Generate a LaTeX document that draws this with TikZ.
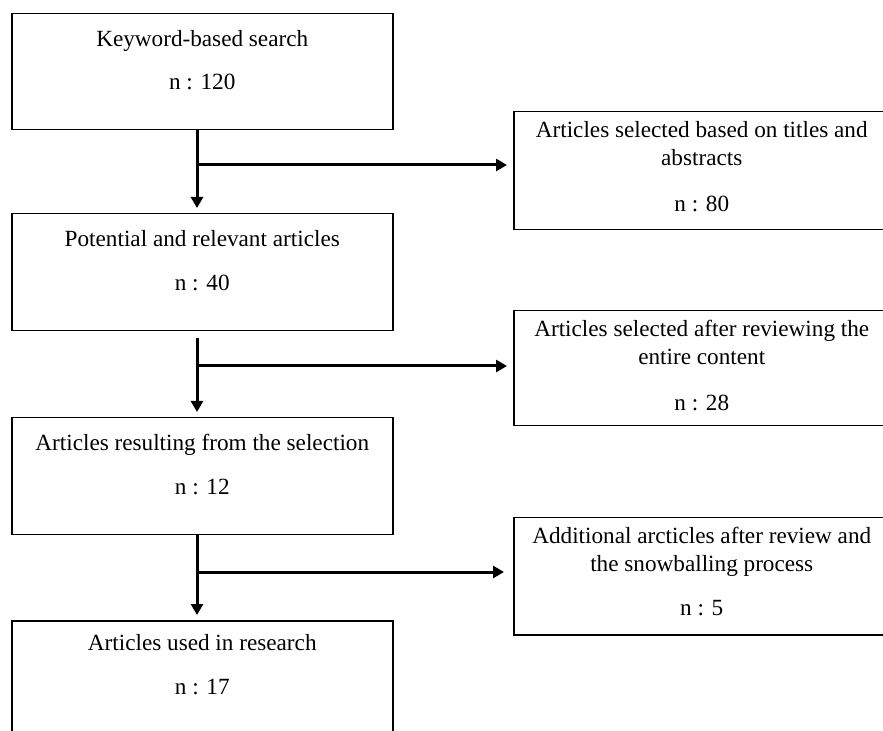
\documentclass[tikz,border=0pt]{standalone}
\usepackage{fontspec}
\setmainfont{Liberation Serif}
\usetikzlibrary{positioning,arrows.meta}
\begin{document}
\begin{tikzpicture}[x=0.5pt,y=-0.5pt,
    box/.style={draw,line width=0.75pt,rectangle,anchor=north west,inner sep=0pt},
    lbl/.style={anchor=north,align=center,inner sep=0pt,font=\fontsize{11.6}{14}\selectfont},
    flow/.style={line width=1.5pt,-{Triangle[length=5.5pt,width=6pt]}}]
  \useasboundingbox (0,0) rectangle (883,731);
  \clip (0,0) rectangle (883,731);
  % boxes
  \draw
    (11,13) node[box,minimum width=190.5pt,minimum height=58pt] (search){}
    (11,213) node[box,minimum width=190.5pt,minimum height=58.5pt] (potential){}
    (11,417) node[box,minimum width=190.5pt,minimum height=58.5pt] (result){}
    (11,620) node[box,minimum width=190.5pt,minimum height=65pt] (used){}
    (513,111) node[box,minimum width=188pt,minimum height=59pt] (titles){}
    (513,310) node[box,minimum width=188pt,minimum height=57.5pt] (content){}
    (513,517) node[box,minimum width=188pt,minimum height=58.5pt] (snowball){};
  % texts
  \node[lbl,below=8.5pt of search.north] (searchtxt) {Keyword-based search\\[7.5pt]n : 120};
  \node[lbl,below=8.5pt of potential.north] (potentialtxt) {Potential and relevant articles\\[8pt]n : 40};
  \node[lbl,below=8.5pt of result.north] (resulttxt) {Articles resulting from the selection\\[8pt]n : 12};
  \node[lbl,below=7pt of used.north] (usedtxt) {Articles used in research\\[8pt]n : 17};
  \node[lbl,below=5pt of titles.north] (titlestxt) {Articles selected based on titles and\\abstracts\\[9pt]n : 80};
  \node[lbl,below=5pt of content.north] (contenttxt) {Articles selected after reviewing the\\entire content\\[9pt]n : 28};
  \node[lbl,below=5pt of snowball.north] (snowballtxt) {Additional arcticles after review and\\the snowballing process\\[8pt]n : 5};
  % connectors
  \coordinate (j1) at (197,165);
  \coordinate (j2) at (197,366);
  \coordinate (j3) at (197,572);
  \begin{scope}[flow]
    \draw[shorten >=2.5pt] (search.south -| j1) -- (potential.north -| j1);
    \draw[shorten >=3pt] (j1) -- (titles.west |- j1);
    \draw[shorten <=3.5pt,shorten >=2.5pt] (potential.south -| j2) -- (result.north -| j2);
    \draw[shorten >=3pt] (j2) -- (content.west |- j2);
    \draw[shorten >=2.5pt] (result.south -| j3) -- (used.north -| j3);
    \draw[shorten >=4.5pt] (j3) -- (snowball.west |- j3);
  \end{scope}
\end{tikzpicture}
\end{document}
